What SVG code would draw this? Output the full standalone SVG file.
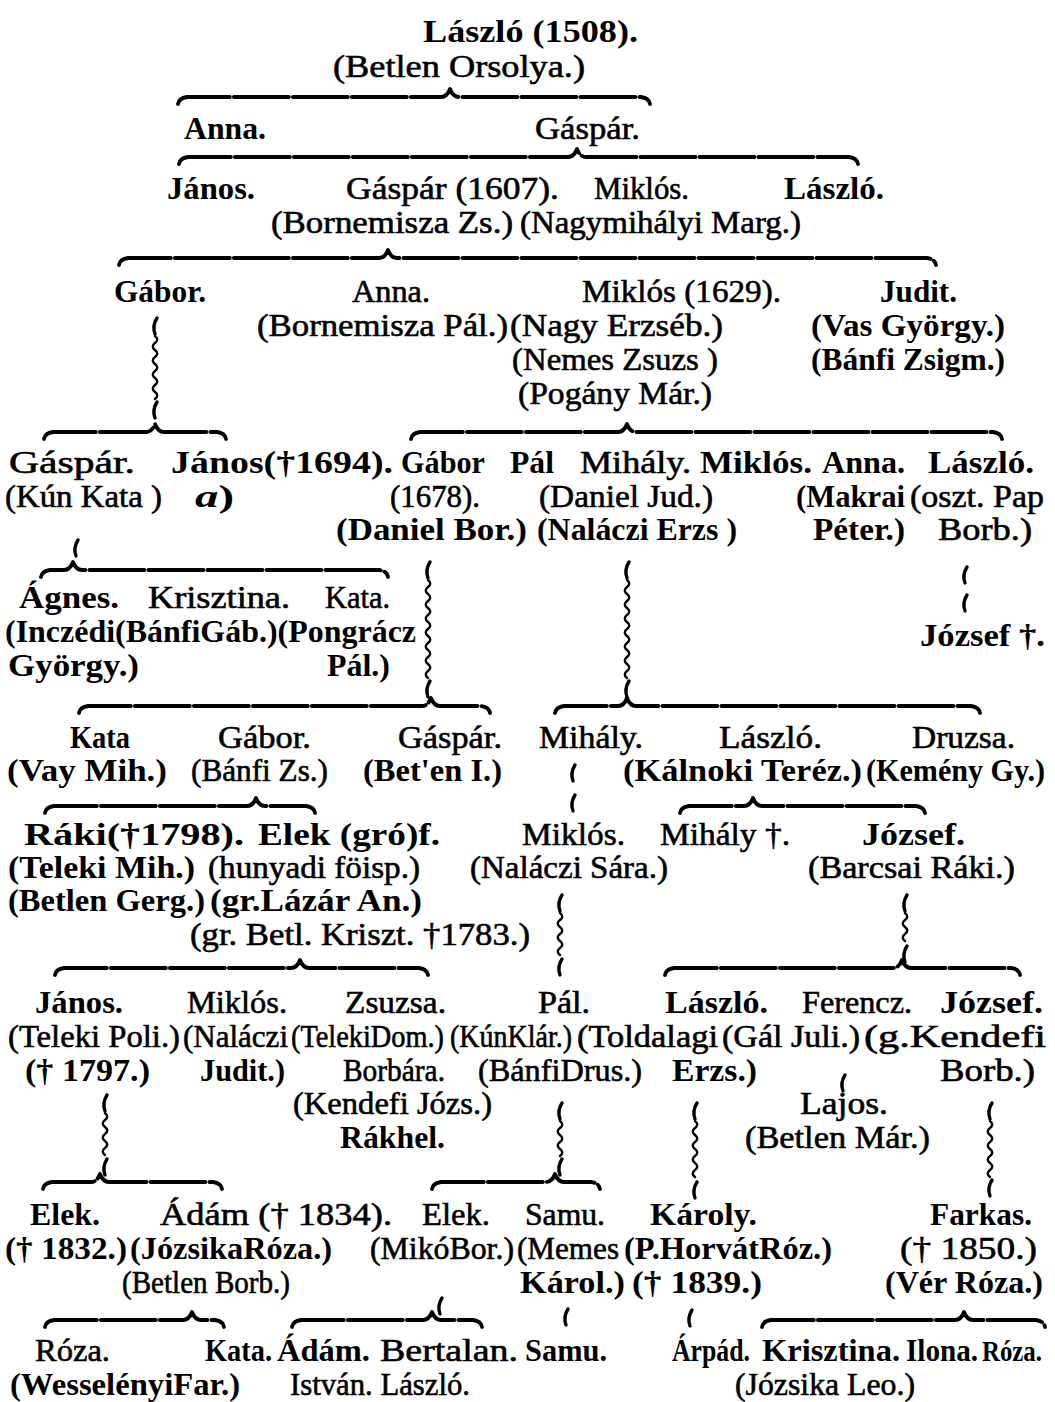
<svg xmlns="http://www.w3.org/2000/svg" width="1055" height="1402" viewBox="0 0 1055 1402">
<style>
text{font-family:"Liberation Serif","Times New Roman",serif;font-size:32px;fill:#000}
.b{font-weight:bold}
.r{stroke:#000;stroke-width:0.6}
.br{fill:none;stroke:#000;stroke-width:3.8;stroke-linecap:round;stroke-linejoin:round;stroke-dasharray:55 4}
.sq{fill:none;stroke:#000;stroke-width:2.4;stroke-linecap:round}
.cm{fill:none;stroke:#000;stroke-width:3.4;stroke-linecap:round}
</style>
<rect width="1055" height="1402" fill="#fff"/>
<g id="connectors">
<path class="br" d="M178 104 Q179 98 187 97 L441 97 Q447 97 450 89 Q453 97 459 97 L641 97 Q649 98 650 104"/>
<path class="br" d="M179 164 Q180 158 188 157 L568 157 Q574 157 577 149 Q580 157 586 157 L849 157 Q857 158 858 164"/>
<path class="br" d="M119 265 Q120 259 128 258 L379 258 Q385 258 388 250 Q391 258 397 258 L927 258 Q935 259 936 265"/>
<path class="br" d="M44 439 Q45 433 53 432 L146 432 Q152 432 155 424 Q158 432 164 432 L217 432 Q225 433 226 439"/>
<path class="br" d="M411 439 Q412 433 420 432 L618 432 Q624 432 627 424 Q630 432 636 432 L993 432 Q1001 433 1002 439"/>
<path class="br" d="M41 577 Q42 571 50 570 L64 570 Q70 570 73 562 Q76 570 82 570 L379 570 Q387 571 388 577"/>
<path class="br" d="M79 713 Q80 707 88 706 L422 706 Q428 706 431 698 Q434 706 440 706 L481 706 Q489 707 490 713"/>
<path class="br" d="M555 713 Q556 707 564 706 L618 706 Q624 706 627 698 Q630 706 636 706 L971 706 Q979 707 980 713"/>
<path class="br" d="M45 813 Q46 807 54 806 L247 806 Q253 806 256 798 Q259 806 265 806 L306 806 Q314 807 315 813"/>
<path class="br" d="M680 813 Q681 807 689 806 L744 806 Q750 806 753 798 Q756 806 762 806 L916 806 Q924 807 925 813"/>
<path class="br" d="M55 975 Q56 969 64 968 L291 968 Q297 968 300 960 Q303 968 309 968 L419 968 Q427 969 428 975"/>
<path class="br" d="M665 975 Q666 969 674 968 L893 968 Q899 968 902 960 Q905 968 911 968 L1011 968 Q1019 969 1020 975"/>
<path class="br" d="M43 1189 Q44 1183 52 1182 L91 1182 Q97 1182 100 1174 Q103 1182 109 1182 L213 1182 Q221 1183 222 1189"/>
<path class="br" d="M432 1189 Q433 1183 441 1182 L546 1182 Q552 1182 555 1174 Q558 1182 564 1182 L591 1182 Q599 1183 600 1189"/>
<path class="br" d="M45 1327 Q46 1321 54 1320 L183 1320 Q189 1320 192 1312 Q195 1320 201 1320 L215 1320 Q223 1321 224 1327"/>
<path class="br" d="M292 1327 Q293 1321 301 1320 L423 1320 Q429 1320 432 1312 Q435 1320 441 1320 L473 1320 Q481 1321 482 1327"/>
<path class="br" d="M762 1327 Q763 1321 771 1320 L955 1320 Q961 1320 964 1312 Q967 1320 973 1320 L1036 1320 Q1044 1321 1045 1327"/>
<path class="cm" d="M157 318 Q152 326 155 334 M157 402 Q152 410 155 418"/>
<path class="sq" d="M155 336 q4.5 3.5 0 7 t0 7 t0 7 t0 7 t0 7 t0 7 t0 7 t0 7 t0 7"/>
<path class="cm" d="M78 540 Q73 548 76 556"/>
<path class="cm" d="M967 567 Q962 575 965 583 M967 595 Q962 603 965 611"/>
<path class="cm" d="M430 562 Q425 570 428 578 M430 681 Q425 689 428 697"/>
<path class="sq" d="M428 580 q4.5 3.5 0 7 t0 7 t0 7 t0 7 t0 7 t0 7 t0 7 t0 7 t0 7 t0 7 t0 7 t0 7 t0 7 t0 7"/>
<path class="cm" d="M629 562 Q624 570 627 578 M629 681 Q624 689 627 697"/>
<path class="sq" d="M627 580 q4.5 3.5 0 7 t0 7 t0 7 t0 7 t0 7 t0 7 t0 7 t0 7 t0 7 t0 7 t0 7 t0 7 t0 7 t0 7"/>
<path class="cm" d="M575 765 Q570 773 573 781 M575 795 Q570 803 573 811"/>
<path class="cm" d="M562 895 Q557 903 560 911 M562 959 Q557 967 560 975"/>
<path class="sq" d="M560 913 q4.5 3.5 0 7 t0 7 t0 7 t0 7 t0 7 t0 7"/>
<path class="cm" d="M907 895 Q902 903 905 911 M907 946 Q902 954 905 962"/>
<path class="sq" d="M905 913 q4.5 3.5 0 7 t0 7 t0 7 t0 7"/>
<path class="cm" d="M845 1075 Q840 1083 843 1091"/>
<path class="cm" d="M107 1095 Q102 1103 105 1111 M107 1159 Q102 1167 105 1175"/>
<path class="sq" d="M105 1113 q4.5 3.5 0 7 t0 7 t0 7 t0 7 t0 7 t0 7"/>
<path class="cm" d="M562 1103 Q557 1111 560 1119 M562 1159 Q557 1167 560 1175"/>
<path class="sq" d="M560 1121 q4.5 3.5 0 7 t0 7 t0 7 t0 7 t0 7"/>
<path class="cm" d="M697 1103 Q692 1111 695 1119 M697 1182 Q692 1190 695 1198"/>
<path class="sq" d="M695 1121 q4.5 3.5 0 7 t0 7 t0 7 t0 7 t0 7 t0 7 t0 7 t0 7"/>
<path class="cm" d="M992 1103 Q987 1111 990 1119 M992 1180 Q987 1188 990 1196"/>
<path class="sq" d="M990 1121 q4.5 3.5 0 7 t0 7 t0 7 t0 7 t0 7 t0 7 t0 7 t0 7"/>
<path class="cm" d="M442 1298 Q437 1306 440 1314"/>
<path class="cm" d="M568 1309 Q563 1317 566 1325"/>
<path class="cm" d="M692 1310 Q687 1318 690 1326"/>
</g>
<g id="n-laszlo-1508"><text class="b" x="423" y="42" textLength="215" lengthAdjust="spacingAndGlyphs">László (1508).</text><text class="r" x="333" y="77" textLength="252" lengthAdjust="spacingAndGlyphs">(Betlen Orsolya.)</text></g>
<g id="n-anna-1"><text class="b" x="184" y="139" textLength="82" lengthAdjust="spacingAndGlyphs">Anna.</text></g>
<g id="n-gaspar-1"><text class="r" x="535" y="139" textLength="105" lengthAdjust="spacingAndGlyphs">Gáspár.</text></g>
<g id="n-janos-1"><text class="b" x="167" y="199" textLength="88" lengthAdjust="spacingAndGlyphs">János.</text></g>
<g id="n-gaspar-1607"><text class="r" x="346" y="199" textLength="213" lengthAdjust="spacingAndGlyphs">Gáspár (1607).</text><text class="r" x="271" y="233" textLength="242" lengthAdjust="spacingAndGlyphs">(Bornemisza Zs.)</text></g>
<g id="n-miklos-1"><text class="r" x="594" y="199" textLength="95" lengthAdjust="spacingAndGlyphs">Miklós.</text><text class="r" x="520" y="233" textLength="281" lengthAdjust="spacingAndGlyphs">(Nagymihályi Marg.)</text></g>
<g id="n-laszlo-1"><text class="b" x="784" y="199" textLength="100" lengthAdjust="spacingAndGlyphs">László.</text></g>
<g id="n-gabor-1"><text class="b" x="114" y="302" textLength="92" lengthAdjust="spacingAndGlyphs">Gábor.</text></g>
<g id="n-anna-2"><text class="r" x="352" y="302" textLength="78" lengthAdjust="spacingAndGlyphs">Anna.</text><text class="r" x="257" y="336" textLength="251" lengthAdjust="spacingAndGlyphs">(Bornemisza Pál.)</text></g>
<g id="n-miklos-1629"><text class="r" x="582" y="302" textLength="199" lengthAdjust="spacingAndGlyphs">Miklós (1629).</text><text class="r" x="510" y="336" textLength="213" lengthAdjust="spacingAndGlyphs">(Nagy Erzséb.)</text><text class="r" x="512" y="370" textLength="206" lengthAdjust="spacingAndGlyphs">(Nemes Zsuzs )</text><text class="r" x="518" y="404" textLength="194" lengthAdjust="spacingAndGlyphs">(Pogány Már.)</text></g>
<g id="n-judit-1"><text class="b" x="880" y="302" textLength="77" lengthAdjust="spacingAndGlyphs">Judit.</text><text class="b" x="811" y="336" textLength="194" lengthAdjust="spacingAndGlyphs">(Vas György.)</text><text class="b" x="811" y="370" textLength="194" lengthAdjust="spacingAndGlyphs">(Bánfi Zsigm.)</text></g>
<g id="n-gaspar-2"><text class="r" x="9" y="473" textLength="126" lengthAdjust="spacingAndGlyphs">Gáspár.</text><text class="r" x="5" y="507" textLength="157" lengthAdjust="spacingAndGlyphs">(Kún Kata )</text></g>
<g id="n-janos-1694"><text class="b" x="171" y="473" textLength="222" lengthAdjust="spacingAndGlyphs">János(†1694).</text><text class="b" x="195" y="507" textLength="39" lengthAdjust="spacingAndGlyphs"><tspan font-style="italic">a</tspan>)</text></g>
<g id="n-gabor-1678"><text class="b" x="401" y="473" textLength="84" lengthAdjust="spacingAndGlyphs">Gábor</text><text class="r" x="390" y="507" textLength="90" lengthAdjust="spacingAndGlyphs">(1678).</text><text class="b" x="336" y="540" textLength="191" lengthAdjust="spacingAndGlyphs">(Daniel Bor.)</text></g>
<g id="n-pal-mihaly"><text class="b" x="510" y="473" textLength="44" lengthAdjust="spacingAndGlyphs">Pál</text><text class="r" x="580" y="473" textLength="111" lengthAdjust="spacingAndGlyphs">Mihály.</text><text class="r" x="539" y="507" textLength="174" lengthAdjust="spacingAndGlyphs">(Daniel Jud.)</text><text class="b" x="537" y="540" textLength="200" lengthAdjust="spacingAndGlyphs">(Naláczi Erzs )</text></g>
<g id="n-miklos-2"><text class="b" x="700" y="473" textLength="112" lengthAdjust="spacingAndGlyphs">Miklós.</text></g>
<g id="n-anna-3"><text class="b" x="822" y="473" textLength="83" lengthAdjust="spacingAndGlyphs">Anna.</text><text class="b" x="796" y="507" textLength="109" lengthAdjust="spacingAndGlyphs">(Makrai</text><text class="b" x="813" y="540" textLength="92" lengthAdjust="spacingAndGlyphs">Péter.)</text></g>
<g id="n-laszlo-2"><text class="b" x="928" y="473" textLength="106" lengthAdjust="spacingAndGlyphs">László.</text><text class="r" x="910" y="507" textLength="134" lengthAdjust="spacingAndGlyphs">(oszt. Pap</text><text class="r" x="938" y="540" textLength="94" lengthAdjust="spacingAndGlyphs">Borb.)</text></g>
<g id="n-jozsef-1"><text class="b" x="920" y="646" textLength="125" lengthAdjust="spacingAndGlyphs">József †.</text></g>
<g id="n-agnes-krisztina-kata"><text class="b" x="19" y="608" textLength="100" lengthAdjust="spacingAndGlyphs">Ágnes.</text><text class="r" x="148" y="608" textLength="142" lengthAdjust="spacingAndGlyphs">Krisztina.</text><text class="r" x="325" y="608" textLength="65" lengthAdjust="spacingAndGlyphs">Kata.</text><text class="b" x="5" y="642" textLength="411" lengthAdjust="spacingAndGlyphs">(Inczédi(BánfiGáb.)(Pongrácz</text><text class="b" x="8" y="676" textLength="131" lengthAdjust="spacingAndGlyphs">György.)</text><text class="b" x="327" y="676" textLength="63" lengthAdjust="spacingAndGlyphs">Pál.)</text></g>
<g id="n-kata-1"><text class="b" x="70" y="748" textLength="60" lengthAdjust="spacingAndGlyphs">Kata</text><text class="b" x="7" y="781" textLength="160" lengthAdjust="spacingAndGlyphs">(Vay Mih.)</text></g>
<g id="n-gabor-2"><text class="r" x="218" y="748" textLength="93" lengthAdjust="spacingAndGlyphs">Gábor.</text><text class="r" x="191" y="781" textLength="137" lengthAdjust="spacingAndGlyphs">(Bánfi Zs.)</text></g>
<g id="n-gaspar-3"><text class="r" x="398" y="748" textLength="104" lengthAdjust="spacingAndGlyphs">Gáspár.</text><text class="b" x="363" y="781" textLength="139" lengthAdjust="spacingAndGlyphs">(Bet'en I.)</text></g>
<g id="n-mihaly-2"><text class="r" x="539" y="748" textLength="104" lengthAdjust="spacingAndGlyphs">Mihály.</text></g>
<g id="n-laszlo-3"><text class="r" x="719" y="748" textLength="103" lengthAdjust="spacingAndGlyphs">László.</text><text class="b" x="623" y="781" textLength="239" lengthAdjust="spacingAndGlyphs">(Kálnoki Teréz.)</text></g>
<g id="n-druzsa"><text class="r" x="912" y="748" textLength="103" lengthAdjust="spacingAndGlyphs">Druzsa.</text><text class="b" x="866" y="781" textLength="179" lengthAdjust="spacingAndGlyphs">(Kemény Gy.)</text></g>
<g id="n-raki"><text class="b" x="24" y="845" textLength="220" lengthAdjust="spacingAndGlyphs">Ráki(†1798).</text><text class="b" x="8" y="878" textLength="187" lengthAdjust="spacingAndGlyphs">(Teleki Mih.)</text><text class="b" x="8" y="911" textLength="197" lengthAdjust="spacingAndGlyphs">(Betlen Gerg.)</text></g>
<g id="n-elek-1"><text class="b" x="258" y="845" textLength="182" lengthAdjust="spacingAndGlyphs">Elek (gró)f.</text><text class="r" x="208" y="878" textLength="212" lengthAdjust="spacingAndGlyphs">(hunyadi föisp.)</text><text class="b" x="210" y="911" textLength="212" lengthAdjust="spacingAndGlyphs">(gr.Lázár An.)</text><text class="r" x="190" y="945" textLength="340" lengthAdjust="spacingAndGlyphs">(gr. Betl. Kriszt. †1783.)</text></g>
<g id="n-miklos-3"><text class="r" x="522" y="845" textLength="103" lengthAdjust="spacingAndGlyphs">Miklós.</text><text class="r" x="470" y="878" textLength="198" lengthAdjust="spacingAndGlyphs">(Naláczi Sára.)</text></g>
<g id="n-mihaly-3"><text class="r" x="660" y="845" textLength="130" lengthAdjust="spacingAndGlyphs">Mihály †.</text></g>
<g id="n-jozsef-2"><text class="b" x="862" y="845" textLength="103" lengthAdjust="spacingAndGlyphs">József.</text><text class="r" x="808" y="878" textLength="207" lengthAdjust="spacingAndGlyphs">(Barcsai Ráki.)</text></g>
<g id="n-janos-2"><text class="b" x="35" y="1013" textLength="88" lengthAdjust="spacingAndGlyphs">János.</text><text class="r" x="8" y="1047" textLength="172" lengthAdjust="spacingAndGlyphs">(Teleki Poli.)</text><text class="b" x="25" y="1081" textLength="125" lengthAdjust="spacingAndGlyphs">(† 1797.)</text></g>
<g id="n-miklos-4"><text class="r" x="187" y="1013" textLength="100" lengthAdjust="spacingAndGlyphs">Miklós.</text><text class="r" x="183" y="1047" textLength="105" lengthAdjust="spacingAndGlyphs">(Naláczi</text><text class="b" x="200" y="1081" textLength="85" lengthAdjust="spacingAndGlyphs">Judit.)</text></g>
<g id="n-zsuzsa"><text class="r" x="345" y="1013" textLength="101" lengthAdjust="spacingAndGlyphs">Zsuzsa.</text><text class="r" x="291" y="1047" textLength="153" lengthAdjust="spacingAndGlyphs">(TelekiDom.)</text><text class="r" x="343" y="1081" textLength="102" lengthAdjust="spacingAndGlyphs">Borbára.</text><text class="r" x="293" y="1114" textLength="199" lengthAdjust="spacingAndGlyphs">(Kendefi Józs.)</text><text class="b" x="340" y="1148" textLength="105" lengthAdjust="spacingAndGlyphs">Rákhel.</text></g>
<g id="n-pal-2"><text class="r" x="538" y="1013" textLength="52" lengthAdjust="spacingAndGlyphs">Pál.</text><text class="r" x="450" y="1047" textLength="122" lengthAdjust="spacingAndGlyphs">(KúnKlár.)</text><text class="r" x="478" y="1081" textLength="164" lengthAdjust="spacingAndGlyphs">(BánfiDrus.)</text></g>
<g id="n-laszlo-4"><text class="b" x="665" y="1013" textLength="103" lengthAdjust="spacingAndGlyphs">László.</text><text class="r" x="577" y="1047" textLength="141" lengthAdjust="spacingAndGlyphs">(Toldalagi</text><text class="b" x="672" y="1081" textLength="85" lengthAdjust="spacingAndGlyphs">Erzs.)</text></g>
<g id="n-ferencz"><text class="r" x="802" y="1013" textLength="110" lengthAdjust="spacingAndGlyphs">Ferencz.</text><text class="r" x="722" y="1047" textLength="138" lengthAdjust="spacingAndGlyphs">(Gál Juli.)</text></g>
<g id="n-jozsef-3"><text class="b" x="940" y="1013" textLength="103" lengthAdjust="spacingAndGlyphs">József.</text><text class="r" x="864" y="1047" textLength="182" lengthAdjust="spacingAndGlyphs">(g.Kendefi</text><text class="r" x="940" y="1081" textLength="95" lengthAdjust="spacingAndGlyphs">Borb.)</text></g>
<g id="n-lajos"><text class="r" x="800" y="1114" textLength="88" lengthAdjust="spacingAndGlyphs">Lajos.</text><text class="r" x="745" y="1148" textLength="185" lengthAdjust="spacingAndGlyphs">(Betlen Már.)</text></g>
<g id="n-elek-2"><text class="b" x="30" y="1225" textLength="70" lengthAdjust="spacingAndGlyphs">Elek.</text><text class="b" x="5" y="1259" textLength="122" lengthAdjust="spacingAndGlyphs">(† 1832.)</text></g>
<g id="n-adam-1834"><text class="r" x="160" y="1225" textLength="232" lengthAdjust="spacingAndGlyphs">Ádám († 1834).</text><text class="b" x="130" y="1259" textLength="202" lengthAdjust="spacingAndGlyphs">(JózsikaRóza.)</text><text class="r" x="122" y="1293" textLength="168" lengthAdjust="spacingAndGlyphs">(Betlen Borb.)</text></g>
<g id="n-elek-3"><text class="r" x="422" y="1225" textLength="68" lengthAdjust="spacingAndGlyphs">Elek.</text><text class="r" x="370" y="1259" textLength="144" lengthAdjust="spacingAndGlyphs">(MikóBor.)</text></g>
<g id="n-samu-1"><text class="r" x="525" y="1225" textLength="80" lengthAdjust="spacingAndGlyphs">Samu.</text><text class="r" x="517" y="1259" textLength="102" lengthAdjust="spacingAndGlyphs">(Memes</text><text class="b" x="520" y="1293" textLength="105" lengthAdjust="spacingAndGlyphs">Károl.)</text></g>
<g id="n-karoly"><text class="b" x="650" y="1225" textLength="107" lengthAdjust="spacingAndGlyphs">Károly.</text><text class="b" x="624" y="1259" textLength="208" lengthAdjust="spacingAndGlyphs">(P.HorvátRóz.)</text><text class="b" x="632" y="1293" textLength="130" lengthAdjust="spacingAndGlyphs">(† 1839.)</text></g>
<g id="n-farkas"><text class="b" x="930" y="1225" textLength="102" lengthAdjust="spacingAndGlyphs">Farkas.</text><text class="r" x="900" y="1259" textLength="137" lengthAdjust="spacingAndGlyphs">(† 1850.)</text><text class="b" x="885" y="1293" textLength="158" lengthAdjust="spacingAndGlyphs">(Vér Róza.)</text></g>
<g id="n-roza-kata"><text class="r" x="35" y="1361" textLength="75" lengthAdjust="spacingAndGlyphs">Róza.</text><text class="b" x="205" y="1361" textLength="67" lengthAdjust="spacingAndGlyphs">Kata.</text><text class="b" x="10" y="1395" textLength="230" lengthAdjust="spacingAndGlyphs">(WesselényiFar.)</text></g>
<g id="n-adam-bertalan"><text class="b" x="277" y="1361" textLength="93" lengthAdjust="spacingAndGlyphs">Ádám.</text><text class="r" x="380" y="1361" textLength="138" lengthAdjust="spacingAndGlyphs">Bertalan.</text><text class="r" x="290" y="1395" textLength="180" lengthAdjust="spacingAndGlyphs">István. László.</text></g>
<g id="n-samu-2"><text class="b" x="525" y="1361" textLength="82" lengthAdjust="spacingAndGlyphs">Samu.</text></g>
<g id="n-arpad"><text class="b" x="672" y="1361" textLength="78" lengthAdjust="spacingAndGlyphs">Árpád.</text></g>
<g id="n-krisztina-ilona-roza"><text class="b" x="762" y="1361" textLength="138" lengthAdjust="spacingAndGlyphs">Krisztina.</text><text class="b" x="906" y="1361" textLength="72" lengthAdjust="spacingAndGlyphs">Ilona.</text><text class="b" x="982" y="1361" textLength="60" lengthAdjust="spacingAndGlyphs" style="font-size:30px">Róza.</text><text class="r" x="735" y="1395" textLength="180" lengthAdjust="spacingAndGlyphs">(Józsika Leo.)</text></g>
</svg>
